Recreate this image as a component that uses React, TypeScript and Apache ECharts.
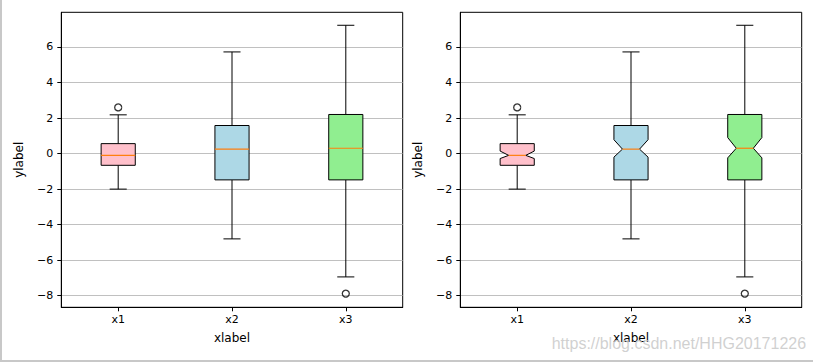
import React, { useEffect, useRef } from "react";
import * as echarts from "echarts";

const categories = ["x1", "x2", "x3"];
const whiskerLow = [-2.0, -4.8, -6.94];
const q1 = [-0.66, -1.48, -1.48];
const median = [-0.1, 0.25, 0.3];
const q3 = [0.56, 1.58, 2.2];
const whiskerHigh = [2.18, 5.72, 7.22];
const notchLow = [-0.28, -0.2, -0.24];
const notchHigh = [0.14, 0.78, 0.9];
const outlierCategory = [0, 2];
const outlierValue = [2.6, -7.88];
const boxColors = ["#ffc0cb", "#add8e6", "#90ee90"];
const yTicks = [-8, -6, -4, -2, 0, 2, 4, 6];
const yMin = -8.65;
const yMax = 7.95;
const xLabel = "xlabel";
const yLabel = "ylabel";
const watermark = "https://blog.csdn.net/HHG20171226";

const FONT = "DejaVu Sans";

function boxSeries(idx: number, notched: boolean) {
  return {
    type: "custom",
    xAxisIndex: idx,
    yAxisIndex: idx,
    z: 3,
    data: categories.map((_, i) => [
      i,
      whiskerLow[i],
      q1[i],
      median[i],
      q3[i],
      whiskerHigh[i],
      notchLow[i],
      notchHigh[i],
    ]),
    encode: { x: 0, y: [1, 2, 3, 4, 5] },
    renderItem: (params: any, api: any) => {
      const i = api.value(0);
      const band = api.size([1, 0])[0];
      const w = band * 0.3;
      const cx = api.coord([i, 0])[0];
      const L = cx - w / 2;
      const R = cx + w / 2;
      const y = (v: number) => api.coord([i, v])[1];
      const yLo = y(api.value(1));
      const yQ1 = y(api.value(2));
      const yMed = y(api.value(3));
      const yQ3 = y(api.value(4));
      const yHi = y(api.value(5));
      const yCiLo = y(api.value(6));
      const yCiHi = y(api.value(7));
      const capL = cx - w / 4;
      const capR = cx + w / 4;
      const lineStyle = { stroke: "#000", lineWidth: 1 };
      const children: any[] = [
        { type: "line", shape: { x1: cx, y1: yQ3, x2: cx, y2: yHi }, style: lineStyle },
        { type: "line", shape: { x1: cx, y1: yQ1, x2: cx, y2: yLo }, style: lineStyle },
        { type: "line", shape: { x1: capL, y1: yHi, x2: capR, y2: yHi }, style: lineStyle },
        { type: "line", shape: { x1: capL, y1: yLo, x2: capR, y2: yLo }, style: lineStyle },
      ];
      let points: number[][];
      if (notched) {
        points = [
          [L, yQ1], [R, yQ1], [R, yCiLo], [capR, yMed], [R, yCiHi], [R, yQ3],
          [L, yQ3], [L, yCiHi], [capL, yMed], [L, yCiLo],
        ];
      } else {
        points = [[L, yQ1], [R, yQ1], [R, yQ3], [L, yQ3]];
      }
      children.push({
        type: "polygon",
        shape: { points },
        style: { fill: boxColors[i], stroke: "#000", lineWidth: 1 },
      });
      const mL = notched ? capL : L;
      const mR = notched ? capR : R;
      children.push({
        type: "line",
        shape: { x1: mL, y1: yMed, x2: mR, y2: yMed },
        style: { stroke: "#ff7f0e", lineWidth: 1.2 },
      });
      return { type: "group", children };
    },
  };
}

function outlierSeries(idx: number) {
  return {
    type: "scatter",
    xAxisIndex: idx,
    yAxisIndex: idx,
    z: 4,
    symbol: "circle",
    symbolSize: 7,
    itemStyle: { color: "rgba(0,0,0,0)", borderColor: "#000", borderWidth: 1.3 },
    data: outlierCategory.map((c, k) => [c, outlierValue[k]]),
  };
}

function xAxisCfg(idx: number) {
  return {
    type: "category",
    gridIndex: idx,
    data: categories,
    boundaryGap: true,
    axisLine: { show: true, onZero: false, lineStyle: { color: "#000", width: 1 } },
    axisTick: { show: true, alignWithLabel: true, length: 4, lineStyle: { color: "#000" } },
    axisLabel: { color: "#000", fontFamily: FONT, fontSize: 11, margin: 7 },
    splitLine: { show: false },
    name: xLabel,
    nameLocation: "middle",
    nameGap: 25,
    nameTextStyle: { color: "#000", fontFamily: FONT, fontSize: 12 },
  };
}

function yAxisCfg(idx: number) {
  return {
    type: "value",
    gridIndex: idx,
    min: yMin,
    max: yMax,
    splitNumber: 8,
    axisLine: { show: true, lineStyle: { color: "#000", width: 1 } },
    axisTick: { show: true, length: 4, lineStyle: { color: "#000" }, customValues: yTicks },
    axisLabel: {
      color: "#000",
      fontFamily: FONT,
      fontSize: 11,
      margin: 8,
      customValues: yTicks,
      formatter: (v: number) => String(v).replace("-", "\u2212"),
    },
    splitLine: { show: true, lineStyle: { color: "#b0b0b0", width: 0.8 } },
    name: yLabel,
    nameLocation: "middle",
    nameGap: 36,
    nameTextStyle: { color: "#000", fontFamily: FONT, fontSize: 12 },
  };
}

export default function App() {
  const ref = useRef<HTMLDivElement>(null);
  useEffect(() => {
    if (!ref.current) return;
    const chart = echarts.init(ref.current, null, { renderer: "svg" });
    chart.setOption({
      animation: false,
      backgroundColor: "#fff",
      grid: [
        { left: 61.3, top: 12.3, width: 341.4, height: 295, show: true, borderColor: "#000", borderWidth: 1, backgroundColor: "transparent" },
        { left: 460.3, top: 12.3, width: 341.4, height: 295, show: true, borderColor: "#000", borderWidth: 1, backgroundColor: "transparent" },
      ],
      xAxis: [xAxisCfg(0), xAxisCfg(1)],
      yAxis: [yAxisCfg(0), yAxisCfg(1)],
      series: [boxSeries(0, false), outlierSeries(0), boxSeries(1, true), outlierSeries(1)],
      graphic: [
        { type: "line", shape: { x1: 1, y1: 0, x2: 1, y2: 362 }, style: { stroke: "#c8c8c8", lineWidth: 2 }, z: 10 },
        { type: "line", shape: { x1: 0, y1: 361, x2: 813, y2: 361 }, style: { stroke: "#c8c8c8", lineWidth: 2 }, z: 10 },
        {
          type: "text",
          x: 551.7,
          y: 343,
          z: 20,
          style: {
            text: watermark,
            font: "16px 'Liberation Sans'",
            fill: "rgba(200,200,200,0.85)",
            verticalAlign: "middle",
          },
        },
      ],
    });
    return () => chart.dispose();
  }, []);
  return (
    <div
      ref={ref}
      style={{ position: "fixed", left: 0, top: 0, width: 813, height: 362 }}
    />
  );
}
